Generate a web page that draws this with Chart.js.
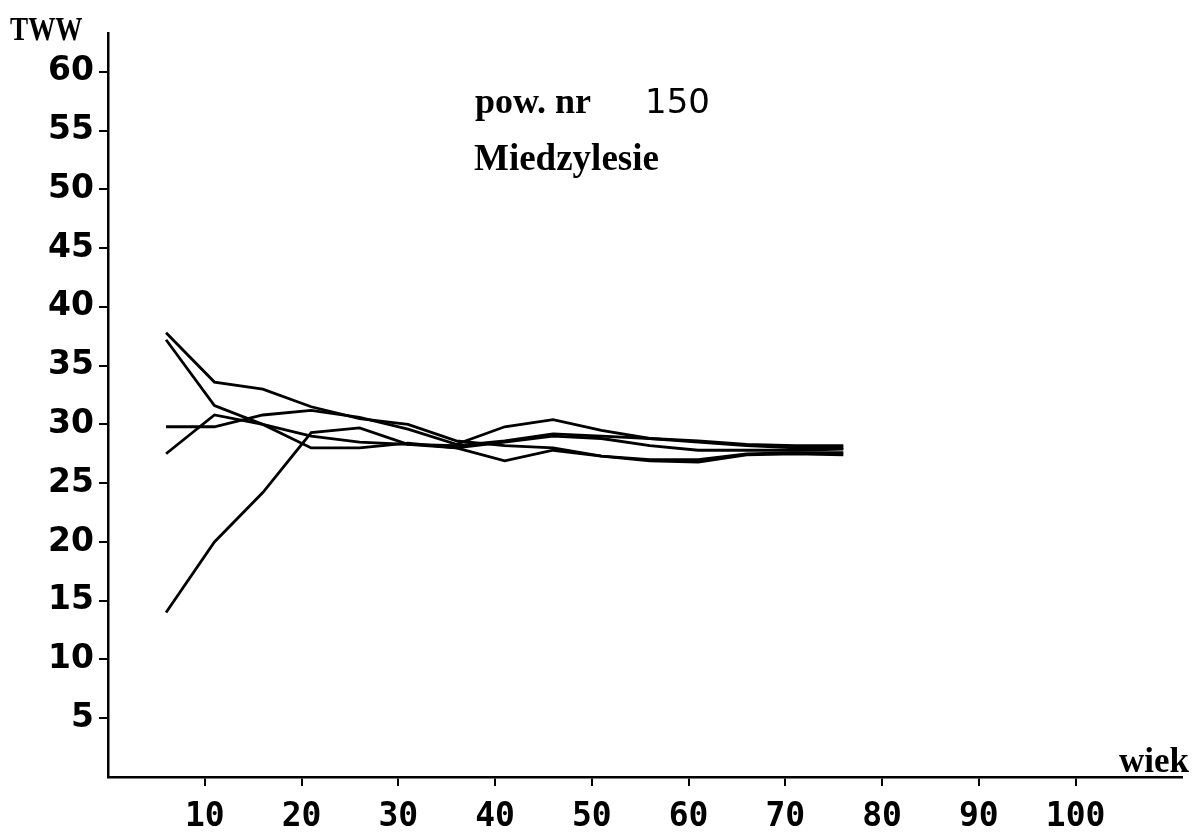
<!DOCTYPE html>
<html>
<head>
<meta charset="utf-8">
<script src="https://cdn.jsdelivr.net/npm/chart.js@4/dist/chart.umd.min.js"></script>
<style>
    html, body { margin: 0; padding: 0; background: #fff; }
    #wrap { width: 1198px; height: 832px; }
</style>
</head>
<body>
<div id="wrap"><canvas id="chart" width="1198" height="832"></canvas></div>
<script>
// Dane (wiek -> TWW)
const wiek = [6, 11, 16, 21, 26, 31, 36, 41, 46, 51, 56, 61, 66, 71, 76];

const seriaA = [37.8, 33.6, 33.0, 31.5, 30.5, 30.0, 28.6, 28.2, 28.0, 27.3, 27.0, 27.0, 27.5, 27.6, 27.6];
const seriaB = [37.2, 31.6, 30.0, 29.0, 28.5, 28.3, 28.2, 28.6, 29.2, 29.0, 28.8, 28.6, 28.3, 28.2, 28.2];
const seriaC = [29.8, 29.8, 30.8, 31.2, 30.6, 29.6, 28.3, 29.8, 30.4, 29.5, 28.8, 28.5, 28.2, 28.0, 28.0];
const seriaD = [27.5, 30.8, 30.0, 28.0, 28.0, 28.4, 28.0, 26.9, 27.8, 27.3, 26.9, 26.8, 27.4, 27.5, 27.4];
const seriaE = [14.0, 20.0, 24.2, 29.3, 29.7, 28.3, 28.0, 28.5, 29.0, 28.8, 28.2, 27.8, 27.8, 27.8, 27.9];

const xTicks = [10, 20, 30, 40, 50, 60, 70, 80, 90, 100];
const yTicks = [5, 10, 15, 20, 25, 30, 35, 40, 45, 50, 55, 60];

// Zamiana tablic na punkty
function toPoints(values) {
    return wiek.map((w, i) => ({ x: w, y: values[i] }));
}

function makeDataset(values) {
    return {
        data: toPoints(values),
        borderColor: '#000',
        borderWidth: 2.8,
        pointRadius: 0,
        tension: 0,
        fill: false
    };
}

// Napisy na wykresie
const labelsPlugin = {
    id: 'napisy',
    afterDraw(chart) {
        const ctx = chart.ctx;
        ctx.save();
        ctx.fillStyle = '#000';
        ctx.textBaseline = 'alphabetic';
        ctx.textAlign = 'left';

        // TWW
        ctx.save();
        ctx.translate(10, 40);
        ctx.scale(0.8, 1);
        ctx.font = 'bold 34px "Liberation Serif"';
        ctx.fillText('TWW', 0, 0);
        ctx.restore();

        // wiek
        ctx.font = 'bold 35px "Liberation Serif"';
        ctx.fillText('wiek', 1119, 772);

        // tytul
        ctx.font = 'bold 36px "Liberation Serif"';
        ctx.fillText('pow. nr', 475, 113);
        ctx.font = '34px "DejaVu Sans"';
        ctx.fillText('150', 645, 113);

        ctx.font = 'bold 37px "Liberation Serif"';
        ctx.fillText('Miedzylesie', 474, 170);

        ctx.restore();
    }
};

new Chart(document.getElementById('chart'), {
    type: 'line',
    data: {
        datasets: [seriaA, seriaB, seriaC, seriaD, seriaE].map(makeDataset)
    },
    options: {
        responsive: false,
        animation: false,
        layout: { padding: { top: 33, right: 16, left: 0, bottom: 0 } },
        plugins: {
            legend: { display: false },
            tooltip: { enabled: false }
        },
        scales: {
            x: {
                type: 'linear',
                min: 0,
                max: 111,
                afterBuildTicks(scale) {
                    scale.ticks = xTicks.map(v => ({ value: v }));
                },
                afterFit(scale) { scale.height = 55; },
                border: { display: true, color: '#000', width: 2.5 },
                grid: { drawOnChartArea: false, drawTicks: true, tickLength: 9, color: '#000', lineWidth: 2 },
                ticks: {
                    color: '#000',
                    padding: 12,
                    maxRotation: 0,
                    autoSkip: false,
                    font: { family: 'DejaVu Sans Mono', size: 33, weight: 'bold' }
                }
            },
            y: {
                type: 'linear',
                min: 0,
                max: 63.3,
                afterBuildTicks(scale) {
                    scale.ticks = yTicks.map(v => ({ value: v }));
                },
                afterFit(scale) { scale.width = 108; },
                border: { display: true, color: '#000', width: 2.5 },
                grid: { drawOnChartArea: false, drawTicks: true, tickLength: 9, color: '#000', lineWidth: 2 },
                ticks: {
                    color: '#000',
                    padding: 5,
                    autoSkip: false,
                    font: { family: 'DejaVu Sans', size: 33, weight: 'bold' }
                }
            }
        }
    },
    plugins: [labelsPlugin]
});
</script>
</body>
</html>
